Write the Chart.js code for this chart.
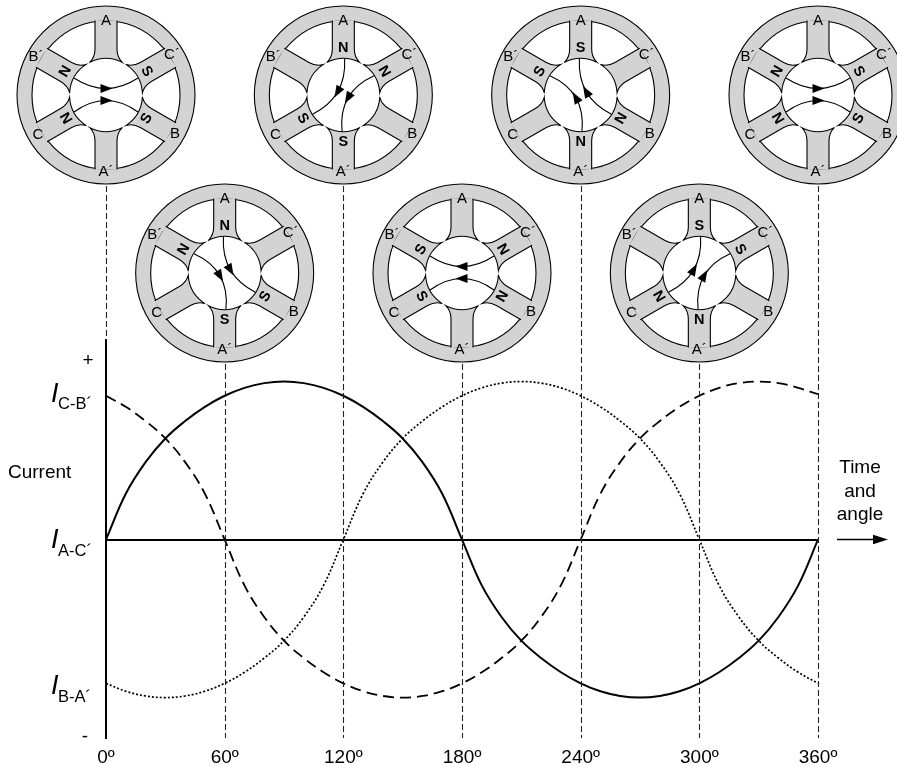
<!DOCTYPE html>
<html>
<head>
<meta charset="utf-8">
<style>html,body{margin:0;padding:0;background:#fff}canvas{display:block}</style>
<script src="https://cdn.jsdelivr.net/npm/chart.js@4"></script>
</head>
<body>
<canvas id="c" width="897" height="767"></canvas>
<script>
const angles = [0,10,20,30,40,50,60,70,80,90,100,110,120,130,140,150,160,170,180,190,200,210,220,230,240,250,260,270,280,290,300,310,320,330,340,350,360];
const currentAC = [0,29,49,64,75,84,91,96,99,100,99,96,91,84,75,64,49,29,0,-29,-49,-64,-75,-84,-91,-96,-99,-100,-99,-96,-91,-84,-75,-64,-49,-29,0];
const currentCB = [91,84,75,64,49,29,0,-29,-49,-64,-75,-84,-91,-96,-99,-100,-99,-96,-91,-84,-75,-64,-49,-29,0,29,49,64,75,84,91,96,99,100,99,96,92];
const currentBA = [-91,-96,-99,-100,-99,-96,-91,-84,-75,-64,-49,-29,0,29,49,64,75,84,91,96,99,100,99,96,91,84,75,64,49,29,0,-29,-49,-64,-75,-84,-91];
const xTickAngles = [0,60,120,180,240,300,360];
const yMarks = [["+",113],["-",-125]];
const seriesLabels = [["C-B´",91],["A-C´",0],["B-A´",-91]];
const sideTitle = "Current";
const timeLabel = ["Time","and","angle"];
const statorLabels = ["A","C´","B","A´","C","B´"];
// one entry per rotor position: pole letters clockwise from A, field rotation, arrow direction
const motorAngles = [0,60,120,180,240,300,360];
const motorPoles = [
  ["","S","S","","N","N"],
  ["N","","S","S","","N"],
  ["N","N","","S","S",""],
  ["","N","N","","S","S"],
  ["S","","N","N","","S"],
  ["S","S","","N","N",""],
  ["","S","S","","N","N"]
];
const motorFieldTurn = [0,60,-60,0,60,-60,0];
const motorFieldDir = [1,1,-1,-1,-1,1,1];

const FONT = '"Liberation Sans", Arial, sans-serif';
const GREY = '#d3d3d3';

function drawMotor(ctx, cx, cy, poles, turn, dir) {
  ctx.save();
  ctx.translate(cx, cy);
  ctx.lineWidth = 1.1;
  ctx.strokeStyle = '#000';
  ctx.fillStyle = GREY;
  ctx.beginPath(); ctx.arc(0,0,89,0,Math.PI*2); ctx.fill(); ctx.stroke();
  ctx.fillStyle = '#fff';
  ctx.beginPath(); ctx.arc(0,0,74,0,Math.PI*2); ctx.fill(); ctx.stroke();
  const tipR = 36.5, a0 = Math.atan2(-32.7,-16.2), a1 = Math.atan2(-32.7,16.2);
  for (let i=0;i<6;i++) {
    ctx.save();
    ctx.rotate(i*Math.PI/3);
    ctx.beginPath();
    ctx.moveTo(-11,-74.5);
    ctx.lineTo(-11,-46);
    ctx.quadraticCurveTo(-11,-38,-16.2,-32.7);
    ctx.arc(0,0,tipR,a0,a1,false);
    ctx.quadraticCurveTo(11,-38,11,-46);
    ctx.lineTo(11,-74.5);
    ctx.fillStyle = GREY;
    ctx.fill();
    ctx.stroke();
    ctx.restore();
  }
  // stator labels
  ctx.fillStyle = '#000';
  ctx.textAlign = 'center';
  ctx.textBaseline = 'middle';
  ctx.font = '15px ' + FONT;
  const lp = [[0,-74.5],[66,-40],[69,39],[0,77],[-68,40],[-70,-38.5]];
  statorLabels.forEach((t,i)=>ctx.fillText(t,lp[i][0],lp[i][1]));
  // pole letters
  ctx.font = 'bold 14.5px ' + FONT;
  const rot = [0,60,-60,0,60,-60];
  const dirs = [0,60,120,180,240,300];
  poles.forEach((p,i)=>{
    if(!p) return;
    const a = dirs[i]*Math.PI/180;
    ctx.save();
    ctx.translate(Math.sin(a)*47,-Math.cos(a)*47);
    ctx.rotate(rot[i]*Math.PI/180);
    ctx.fillText(p,0,0);
    ctx.restore();
  });
  // field lines
  ctx.rotate(turn*Math.PI/180);
  [[-1,-6.5],[1,5.5]].forEach(([s,mid])=>{
    ctx.beginPath();
    ctx.moveTo(-32,s*17);
    ctx.quadraticCurveTo(0,2*mid-s*17,32,s*17);
    ctx.lineWidth = 1.1;
    ctx.stroke();
    ctx.beginPath();
    ctx.moveTo(dir*6.5,mid);
    ctx.lineTo(-dir*5.5,mid-4.5);
    ctx.lineTo(-dir*5.5,mid+4.5);
    ctx.closePath();
    ctx.fill();
  });
  ctx.restore();
}

const decor = {
  id:'decor',
  afterDraw(chart){
    const {ctx, scales:{x,y}} = chart;
    const bottom = y.bottom;
    ctx.save();
    // drop lines
    ctx.strokeStyle = '#222'; ctx.lineWidth = 1.1; ctx.setLineDash([6,3]);
    motorAngles.forEach((a,i)=>{
      const px = Math.round(x.getPixelForValue(a))+0.5;
      const start = i%2===0 ? 186 : 364;
      const end = a===0 ? y.top : bottom;
      ctx.beginPath(); ctx.moveTo(px,start); ctx.lineTo(px,end); ctx.stroke();
    });
    ctx.setLineDash([]);
    motorAngles.forEach((a,i)=>{
      const cy = i%2===0 ? 95 : 273;
      drawMotor(ctx,x.getPixelForValue(a),cy,motorPoles[i],motorFieldTurn[i],motorFieldDir[i]);
    });
    // y marks
    ctx.fillStyle='#000'; ctx.textAlign='center';
    ctx.font='19px '+FONT;
    ctx.textBaseline='middle';
    ctx.fillText(yMarks[0][0],88,y.getPixelForValue(yMarks[0][1]));
    ctx.fillText(yMarks[1][0],85,y.getPixelForValue(yMarks[1][1]));
    ctx.textBaseline='alphabetic';
    ctx.textAlign='left';
    ctx.fillText(sideTitle,8,478);
    // series labels
    const offI=[6,8.5,11], offS=[13,16.5,19];
    seriesLabels.forEach(([t,v],i)=>{
      const py=y.getPixelForValue(v);
      ctx.font='italic 27px '+FONT;
      ctx.fillText('I',51,py+offI[i]);
      ctx.font='16.5px '+FONT;
      ctx.fillText(t,58,py+offS[i]);
    });
    // time label and arrow
    ctx.font='19px '+FONT; ctx.textAlign='center'; ctx.textBaseline='middle';
    timeLabel.forEach((t,i)=>ctx.fillText(t,860,468+i*23.5));
    const ay=y.getPixelForValue(0);
    ctx.strokeStyle='#000'; ctx.lineWidth=1.6;
    ctx.beginPath(); ctx.moveTo(837,ay); ctx.lineTo(875,ay); ctx.stroke();
    ctx.beginPath(); ctx.moveTo(888,ay); ctx.lineTo(873,ay-4.8); ctx.lineTo(873,ay+4.8); ctx.closePath(); ctx.fill();
    ctx.restore();
  }
};

const pts = arr => arr.map((v,i)=>({x:angles[i],y:v}));

new Chart(document.getElementById('c'),{
  type:'line',
  data:{datasets:[
    {label:'I A-C´',data:pts(currentAC),borderColor:'#000',borderWidth:2,pointRadius:0,tension:0.4},
    {label:'I C-B´',data:pts(currentCB),borderColor:'#000',borderWidth:1.8,borderDash:[11,6],pointRadius:0,tension:0.4},
    {label:'I B-A´',data:pts(currentBA),borderColor:'#000',borderWidth:1.7,borderDash:[2,2],pointRadius:0,tension:0.4}
  ]},
  options:{
    responsive:false,
    animation:false,
    devicePixelRatio:1,
    layout:{padding:{top:340,right:79,left:0,bottom:0}},
    plugins:{legend:{display:false},title:{display:false},tooltip:{enabled:false}},
    scales:{
      x:{
        type:'linear',min:0,max:360,
        afterFit(s){s.height=29;},
        afterBuildTicks(s){s.ticks=xTickAngles.map(v=>({value:v}));},
        grid:{display:false,drawTicks:false},
        border:{display:false},
        ticks:{padding:8,maxRotation:0,autoSkip:false,color:'#000',font:{family:FONT,size:19},callback:v=>v+'º'}
      },
      y:{
        type:'linear',min:-125.6,max:126.3,
        afterFit(s){s.width=106;},
        afterBuildTicks(s){s.ticks=[{value:0}];},
        grid:{drawTicks:false,lineWidth:2,color:c=>c.tick&&c.tick.value===0?'#000':'rgba(0,0,0,0)'},
        border:{display:true,color:'#000',width:2},
        ticks:{display:false}
      }
    }
  },
  plugins:[decor]
});
</script>
</body>
</html>
